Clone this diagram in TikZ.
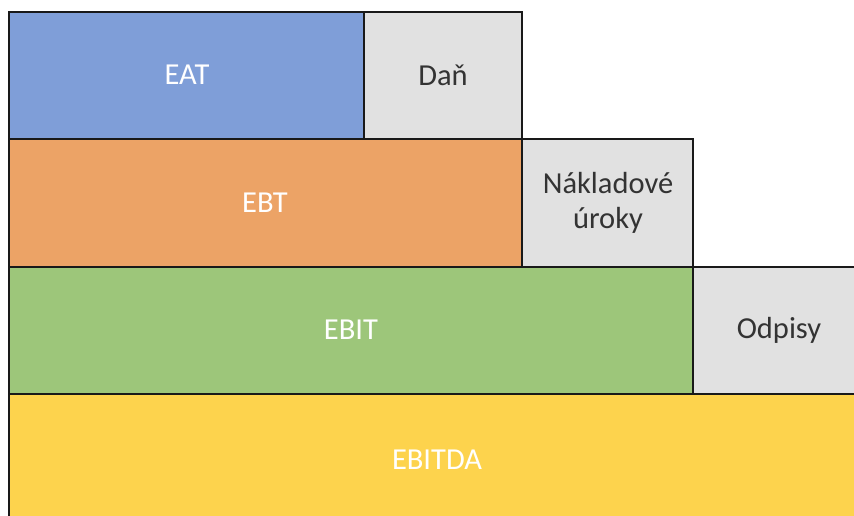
\documentclass[tikz,border=0pt]{standalone}
\usepackage{fontspec}
\setmainfont{Carlito}
\begin{document}
\begin{tikzpicture}[x=1pt,y=-1pt,
  cell/.style={draw=black!90,line width=1.8pt},
  lbl/.style={font=\fontsize{30.5}{35}\selectfont,align=center},
  light/.style={lbl,text=white},
  dark/.style={lbl,text=black!80}]
\definecolor{eatblue}{HTML}{7F9ED8}
\definecolor{ebtorange}{HTML}{ECA366}
\definecolor{ebitgreen}{HTML}{9DC67A}
\definecolor{ebitdayellow}{HTML}{FDD34D}
\definecolor{costgray}{HTML}{E1E1E1}
\useasboundingbox (0,0) rectangle (854,516);
% coloured profit levels
\draw[cell,fill=ebitdayellow] (9,394) rectangle (870,530);
\draw[cell,fill=ebitgreen] (9,267) rectangle (693,394);
\draw[cell,fill=ebtorange] (9,139) rectangle (522,267);
\draw[cell,fill=eatblue] (9,12) rectangle (364,139);
% deducted items
\draw[cell,fill=costgray] (364,12) rectangle (522,139);
\draw[cell,fill=costgray] (522,139) rectangle (693,267);
\draw[cell,fill=costgray] (693,267) rectangle (870,394);
% labels
\node[light] (eat) at (187,75) {EAT};
\node[dark] (dan) at (443,75) {Daň};
\node[light] (ebt) at (265,203) {EBT};
\node[dark] (urok) at (608,203) {Nákladové\\úroky};
\node[light] (ebit) at (351,330) {EBIT};
\node[dark] (odp) at (779,330) {Odpisy};
\node[light] (ebitda) at (437,460) {EBITDA};
\end{tikzpicture}
\end{document}
